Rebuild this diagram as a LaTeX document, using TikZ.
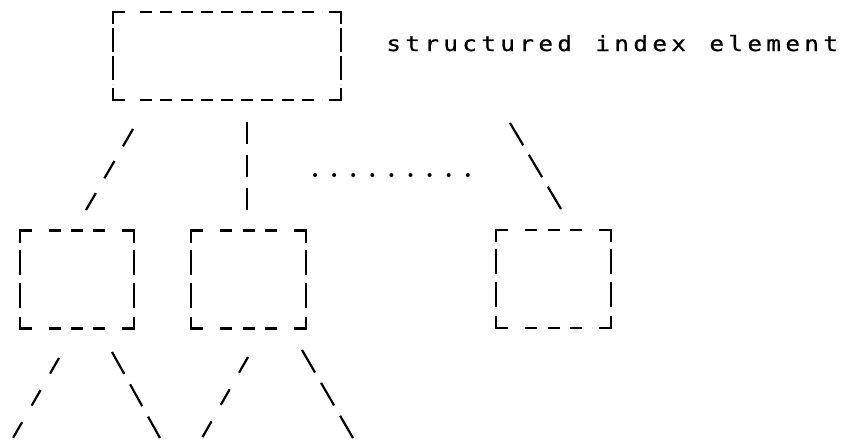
\documentclass[tikz,border=0pt]{standalone}
\usepackage{fontspec}
\usetikzlibrary{decorations}
\newfontfamily\plotfont[FakeStretch=1.15, FakeBold=0.8]{DejaVu Sans Mono}

% fixed character pitch, as a pen plotter sets text
\newcommand\pitched[1]{\pitchedi#1\relax}
\def\pitchedi#1{\ifx\relax#1\else\makebox[19pt][c]{#1}\expandafter\pitchedi\fi}

\tikzset{
  pen/.style={line width=2.2pt, black},
  ibox/.style={rectangle, draw=none, inner sep=0pt, outer sep=0pt},
  hdash/.style={pen, dash pattern=on 12pt off 7pt, dash expand off},
  corner/.style={pen, line cap=butt, line join=miter},
  link/.style={pen, dash expand off},
  label/.style={inner sep=0pt, anchor=base west, font=\plotfont\fontsize{21}{26}\selectfont},
}

% dashed frame with closed corners around a named node;
% #2 = gap before the first vertical dash, #3 = vertical dash pattern
\newcommand\frameit[3]{%
  \draw[corner] ([yshift=-12pt]#1.north west) -- (#1.north west) -- ([xshift=12pt]#1.north west);
  \draw[corner] ([xshift=-12pt]#1.north east) -- (#1.north east) -- ([yshift=-12pt]#1.north east);
  \draw[corner] ([yshift=12pt]#1.south west) -- (#1.south west) -- ([xshift=12pt]#1.south west);
  \draw[corner] ([xshift=-12pt]#1.south east) -- (#1.south east) -- ([yshift=12pt]#1.south east);
  \draw[hdash] ([xshift=19pt]#1.north west) -- ([xshift=-19pt]#1.north east);
  \draw[hdash] ([xshift=19pt]#1.south west) -- ([xshift=-19pt]#1.south east);
  \draw[pen, dash expand off, #3] ([yshift=-#2]#1.north west) -- ([yshift=#2]#1.south west);
  \draw[pen, dash expand off, #3] ([yshift=-#2]#1.north east) -- ([yshift=#2]#1.south east);
}

\begin{document}
\begin{tikzpicture}[x=1pt, y=-1pt]
  \useasboundingbox (0,0) rectangle (848,445);

  % index elements
  \node[ibox, minimum width=228pt, minimum height=88pt] (root) at (227,56) {};
  \node[ibox, minimum width=114pt, minimum height=98pt] (a) at (77,279.5) {};
  \node[ibox, minimum width=115pt, minimum height=98pt] (b) at (248.5,279.5) {};
  \node[ibox, minimum width=115pt, minimum height=98pt] (c) at (553.5,279) {};

  \frameit{root}{16pt}{dash pattern=on 24pt off 4pt}
  \frameit{a}{19pt}{dash pattern=on 25pt off 8pt}
  \frameit{b}{19pt}{dash pattern=on 25pt off 8pt}
  \frameit{c}{19pt}{dash pattern=on 25pt off 8pt}

  % label of the upper element
  \node[label] (lbl) at (384,51) {\pitched{structured~index~element}};

  % free ends of the links
  \coordinate (r1) at (133,129);  \coordinate (a0) at (86,210);
  \coordinate (r2) at (247,122);  \coordinate (b0) at (247,210);
  \coordinate (r3) at (510,123);  \coordinate (c0) at (561,209);
  \coordinate (a1) at (59,358);   \coordinate (a1e) at (13,438);
  \coordinate (a2) at (112,352);  \coordinate (a2e) at (160,438);
  \coordinate (b1) at (248,357);  \coordinate (b1e) at (202,438);
  \coordinate (b2) at (302,350);  \coordinate (b2e) at (353,438);

  \draw[link, dash pattern=on 20pt off 17pt] (r1) -- (a0);
  \draw[link, dash pattern=on 22pt off 11pt] (r2) -- (b0);
  \draw[link, dash pattern=on 26pt off 11pt] (r3) -- (c0);
  \draw[link, dash pattern=on 18pt off 19pt] (a1) -- (a1e);
  \draw[link, dash pattern=on 25pt off 12pt] (a2) -- (a2e);
  \draw[link, dash pattern=on 18pt off 19pt] (b1) -- (b1e);
  \draw[link, dash pattern=on 26pt off 12pt] (b2) -- (b2e);

  % row of dots between the links
  \foreach \i in {0,...,8}
    \fill (315+19.1*\i,175) circle (2pt);
\end{tikzpicture}
\end{document}
